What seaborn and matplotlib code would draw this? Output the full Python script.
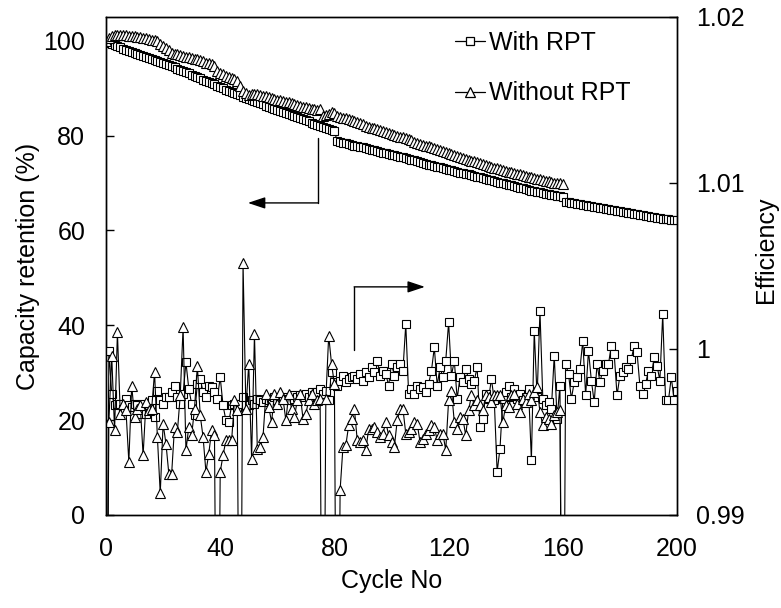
import matplotlib
matplotlib.use("Agg")
import matplotlib.pyplot as plt
from matplotlib.lines import Line2D
import seaborn as sns

# ---------------- data ----------------
cap_with_rpt = [
    100.0, 99.5, 99.3, 99.0, 98.8, 98.6, 98.3, 98.1, 97.9, 97.7,
    97.5, 97.3, 97.0, 96.8, 96.6, 96.4, 96.2, 96.0, 95.8, 95.6,
    95.4, 95.1, 94.9, 94.6, 94.4, 94.1, 93.9, 93.6, 93.4, 93.1,
    92.8, 92.6, 92.3, 92.1, 91.8, 91.5, 91.3, 91.0, 90.8, 90.5,
    90.2, 90.0, 89.7, 89.5, 89.2, 89.0, 88.7, 88.5, 88.2, 88.0,
    87.7, 87.5, 87.3, 87.0, 86.8, 86.6, 86.3, 86.1, 85.9, 85.7,
    85.4, 85.2, 85.0, 84.8, 84.5, 84.3, 84.1, 83.9, 83.6, 83.4,
    83.2, 83.0, 82.7, 82.5, 82.3, 82.1, 81.8, 81.6, 81.4, 81.2,
    80.9, 78.8, 78.7, 78.5, 78.4, 78.2, 78.1, 77.9, 77.8, 77.6,
    77.5, 77.3, 77.2, 77.0, 76.9, 76.7, 76.6, 76.4, 76.3, 76.1,
    76.0, 75.8, 75.7, 75.5, 75.4, 75.2, 75.1, 74.9, 74.8, 74.6,
    74.5, 74.3, 74.0, 73.9, 73.7, 73.6, 73.4, 73.3, 73.1, 73.0,
    72.8, 72.7, 72.5, 72.4, 72.2, 72.1, 71.9, 71.8, 71.6, 71.5,
    71.3, 71.2, 71.0, 70.9, 70.7, 70.6, 70.4, 70.2, 70.1, 69.9,
    69.8, 69.6, 69.5, 69.3, 69.2, 69.0, 68.9, 68.7, 68.6, 68.4,
    68.3, 68.1, 68.0, 67.8, 67.7, 67.6, 67.5, 67.4, 67.3, 67.2,
    67.1, 66.0, 65.9, 65.8, 65.7, 65.6, 65.5, 65.4, 65.3, 65.2,
    65.1, 65.0, 64.9, 64.8, 64.7, 64.6, 64.5, 64.4, 64.3, 64.2,
    64.0, 63.9, 63.8, 63.7, 63.6, 63.5, 63.4, 63.3, 63.2, 63.1,
    63.0, 62.9, 62.8, 62.7, 62.6, 62.5, 62.4, 62.4, 62.3, 62.3,
    62.2,
]

cap_without_rpt = [
    100.0, 100.6, 101.0, 101.3, 101.3, 101.2, 101.2, 101.1, 101.0, 100.9,
    100.9, 100.8, 100.7, 100.6, 100.5, 100.4, 100.2, 100.1, 99.9, 99.3,
    98.8, 98.5, 98.0, 97.5, 97.3, 97.1, 96.9, 96.8, 96.6, 96.5,
    96.4, 96.2, 96.1, 95.9, 95.7, 95.4, 95.2, 95.0, 94.7, 93.6,
    93.2, 92.9, 92.6, 92.4, 92.1, 91.9, 91.6, 90.4, 89.4, 89.0,
    88.6, 88.7, 88.8, 88.7, 88.5, 88.4, 88.3, 88.1, 88.0, 87.8,
    87.6, 87.5, 87.3, 87.1, 87.0, 86.8, 86.6, 86.4, 86.3, 86.1,
    86.0, 85.8, 85.7, 85.5, 85.3, 85.6, 84.2, 84.3, 84.6, 84.9,
    84.7, 84.2, 83.9, 83.8, 83.6, 83.4, 83.2, 83.0, 82.8, 82.6,
    82.4, 82.1, 81.9, 81.7, 81.6, 81.4, 81.2, 81.0, 80.8, 80.6,
    80.4, 80.2, 80.0, 79.8, 79.6, 79.4, 79.2, 79.0, 78.7, 78.5,
    78.3, 78.1, 77.9, 77.7, 77.5, 77.3, 77.1, 76.9, 76.7, 76.5,
    76.3, 76.1, 75.9, 75.7, 75.5, 75.3, 75.1, 74.9, 74.7, 74.6,
    74.4, 74.2, 74.0, 73.8, 73.6, 73.4, 73.2, 73.1, 72.9, 72.7,
    72.6, 72.4, 72.3, 72.1, 71.9, 71.8, 71.6, 71.5, 71.3, 71.2,
    71.0, 70.9, 70.8, 70.6, 70.5, 70.4, 70.2, 70.1, 70.0, 69.9,
    69.8,
]

eff_with_rpt = [
    0.9700, 0.9999, 0.9973, 0.9966, 0.9967, 0.9967, 0.9964, 0.9970, 0.9966, 0.9965,
    0.9967, 0.9966, 0.9961, 0.9967, 0.9961, 0.9966, 0.9969, 0.9959, 0.9975, 0.9969,
    0.9967, 0.9971, 0.9971, 0.9974, 0.9978, 0.9971, 0.9967, 0.9973, 0.9992, 0.9976,
    0.9967, 0.9960, 0.9979, 0.9982, 0.9974, 0.9971, 0.9978, 0.9977, 0.9974, 0.9970,
    0.9983, 0.9966, 0.9957, 0.9956, 0.9966, 0.9967, 0.9965, 0.9967, 0.9971, 0.9966,
    0.9966, 0.9969, 0.9967, 0.9970, 0.9969, 0.9968, 0.9970, 0.9969, 0.9967, 0.9971,
    0.9969, 0.9969, 0.9971, 0.9970, 0.9969, 0.9972, 0.9970, 0.9971, 0.9972, 0.9971,
    0.9973, 0.9971, 0.9974, 0.9972, 0.9974, 0.9976, 0.9973, 0.9975, 0.9969, 0.9986,
    0.9980, 0.9978, 0.9981, 0.9984, 0.9980, 0.9982, 0.9983, 0.9984, 0.9982, 0.9985,
    0.9981, 0.9986, 0.9983, 0.9989, 0.9986, 0.9993, 0.9984, 0.9987, 0.9985, 0.9978,
    0.9991, 0.9984, 0.9989, 0.9991, 0.9987, 1.0015, 0.9973, 0.9976, 0.9973, 0.9978,
    0.9976, 0.9977, 0.9974, 0.9979, 0.9987, 1.0001, 0.9978, 0.9989, 0.9983, 0.9993,
    1.0016, 0.9984, 0.9993, 0.9970, 0.9983, 0.9980, 0.9988, 0.9982, 0.9979, 0.9981,
    0.9989, 0.9953, 0.9958, 0.9973, 0.9970, 0.9982, 0.9969, 0.9926, 0.9940, 0.9970,
    0.9974, 0.9978, 0.9971, 0.9976, 0.9970, 0.9973, 0.9969, 0.9971, 0.9976, 0.9933,
    1.0011, 0.9971, 1.0023, 0.9970, 0.9966, 0.9968, 0.9964, 0.9996, 0.9958, 0.9978,
    0.9700, 0.9991, 0.9985, 0.9970, 0.9980, 0.9983, 0.9988, 1.0005, 0.9972, 0.9999,
    0.9981, 0.9968, 0.9991, 0.9980, 0.9987, 0.9991, 0.9991, 1.0002, 0.9997, 0.9972,
    0.9984, 0.9986, 0.9989, 0.9988, 0.9994, 1.0002, 0.9998, 0.9978, 0.9973, 0.9979,
    0.9987, 0.9984, 0.9995, 0.9990, 0.9981, 1.0021, 0.9969, 0.9969, 0.9983, 0.9969,
    0.9975,
]

eff_without_rpt = [
    0.9700, 0.9956, 0.9996, 0.9951, 1.0010, 0.9961, 0.9967, 0.9963, 0.9932, 0.9978,
    0.9959, 0.9964, 0.9966, 0.9936, 0.9968, 0.9963, 0.9964, 0.9986, 0.9947, 0.9913,
    0.9955, 0.9943, 0.9925, 0.9925, 0.9953, 0.9950, 0.9972, 1.0013, 0.9939, 0.9953,
    0.9948, 0.9964, 0.9990, 0.9960, 0.9947, 0.9926, 0.9937, 0.9951, 0.9948, 0.9700,
    0.9926, 0.9936, 0.9945, 0.9945, 0.9945, 0.9969, 0.9963, 0.9700, 1.0052, 0.9964,
    0.9991, 0.9934, 1.0009, 0.9940, 0.9941, 0.9947, 0.9973, 0.9965, 0.9956, 0.9973,
    0.9967, 0.9974, 0.9970, 0.9957, 0.9973, 0.9964, 0.9959, 0.9969, 0.9973, 0.9958,
    0.9961, 0.9969, 0.9973, 0.9967, 0.9969, 0.9970, 0.9700, 0.9970, 1.0008, 0.9991,
    0.9979, 0.9700, 0.9915, 0.9941, 0.9942, 0.9954, 0.9958, 0.9964, 0.9945, 0.9944,
    0.9945, 0.9939, 0.9952, 0.9952, 0.9953, 0.9950, 0.9947, 0.9949, 0.9956, 0.9948,
    0.9944, 0.9941, 0.9957, 0.9964, 0.9964, 0.9949, 0.9950, 0.9952, 0.9956, 0.9955,
    0.9944, 0.9946, 0.9949, 0.9951, 0.9954, 0.9953, 0.9945, 0.9949, 0.9949, 0.9939,
    0.9969, 0.9975, 0.9956, 0.9952, 0.9959, 0.9958, 0.9948, 0.9963, 0.9972, 0.9966,
    0.9969, 0.9966, 0.9963, 0.9972, 0.9971, 0.9968, 0.9972, 0.9972, 0.9972, 0.9956,
    0.9966, 0.9965, 0.9972, 0.9973, 0.9967, 0.9962, 0.9970, 0.9968, 0.9973, 0.9969,
    0.9974, 0.9977, 0.9962, 0.9954, 0.9959, 0.9958, 0.9955, 0.9960, 0.9962, 0.9963,
    0.9700,
]

cycles_with = list(range(len(cap_with_rpt)))
cycles_without = list(range(len(cap_without_rpt)))
series_labels = ["With RPT", "Without RPT"]
x_ticks = [0, 40, 80, 120, 160, 200]
y_ticks = [0, 20, 40, 60, 80, 100]
eff_ticks = [0.99, 1.00, 1.01, 1.02]
eff_tick_labels = ["0.99", "1", "1.01", "1.02"]

# ---------------- style ----------------
sns.set_theme(style="ticks")
plt.rcParams["font.family"] = ["Liberation Sans", "DejaVu Sans"]
for k in ("text.color", "axes.labelcolor", "xtick.color", "ytick.color", "axes.edgecolor"):
    plt.rcParams[k] = "black"
FS = 18

W, H = 781, 608
fig = plt.figure(figsize=(W / 100, H / 100), dpi=100)
L, R, T, B = 106, 677, 17, 515
ax = fig.add_axes([L / W, 1 - B / H, (R - L) / W, (B - T) / H])
ax.set_facecolor("white")
fig.patch.set_facecolor("white")

mk = dict(color="black", linewidth=0.8, markerfacecolor="white",
          markeredgecolor="black", markeredgewidth=0.8, legend=False)

sns.lineplot(x=cycles_with, y=cap_with_rpt, ax=ax, marker="s", markersize=6.2, **mk)
sns.lineplot(x=cycles_without, y=cap_without_rpt, ax=ax, marker="^", markersize=6.8, **mk)

ax.set_xlim(0, 200)
ax.set_ylim(0, 105)
ax.set_xticks(x_ticks)
ax.set_yticks(y_ticks)

ax2 = ax.twinx()
sns.lineplot(x=cycles_with, y=eff_with_rpt, ax=ax2, marker="s", markersize=6.2, **mk)
sns.lineplot(x=cycles_without, y=eff_without_rpt, ax=ax2, marker="^", markersize=6.8, **mk)
ax2.set_ylim(0.99, 1.02)
ax2.set_yticks(eff_ticks)
ax2.set_yticklabels(eff_tick_labels)
ax2.set_xlim(0, 200)

for a in (ax, ax2):
    for s in a.spines.values():
        s.set_color("black")
        s.set_linewidth(1.0)
        s.set_visible(True)

ax.tick_params(axis="y", direction="in", length=6, width=1, labelsize=FS, pad=15,
               colors="black", labelcolor="black")
ax.tick_params(axis="x", direction="in", length=0, width=1, labelsize=FS, pad=16,
               colors="black", labelcolor="black")
ax2.tick_params(axis="y", direction="in", length=6, width=1, labelsize=FS, pad=14,
                colors="black", labelcolor="black")

ax.set_xlabel("Cycle No", fontsize=FS, va="center", color="black")
ax.xaxis.set_label_coords(0.5, (B - 581) / (B - T))
ax.set_ylabel("Capacity retention (%)", fontsize=FS, va="center", color="black")
ax.yaxis.set_label_coords((28 - L) / (R - L), 0.5)
ax2.set_ylabel("Efficiency", fontsize=FS, va="center", rotation=90, color="black")
ax2.yaxis.set_label_coords((766 - L) / (R - L), (B - 250) / (B - T))

# legend
handles = [
    Line2D([], [], color="black", lw=0.9, marker="s", ms=6, mfc="white", mec="black", mew=0.9),
    Line2D([], [], color="black", lw=0.9, marker="^", ms=6.5, mfc="white", mec="black", mew=0.9),
]
leg = ax2.legend(handles, series_labels, loc="upper left",
                 bbox_to_anchor=(455 / W, 1 - 31 / H), bbox_transform=fig.transFigure,
                 frameon=False, fontsize=FS, borderpad=0, handlelength=1.2,
                 handletextpad=0.15, labelspacing=1.05, borderaxespad=0)
for t in leg.get_texts():
    t.set_color("black")

# elbow arrows
arrow_kw = dict(arrowstyle="-|>,head_length=0.75,head_width=0.25", color="black",
                lw=1.0, mutation_scale=14, shrinkA=0, shrinkB=0)
ax.plot([74.3, 74.3], [79.5, 65.8], color="black", lw=1.0)
ax.annotate("", xy=(49.7, 65.8), xytext=(74.3, 65.8), arrowprops=arrow_kw)
ax.plot([86.9, 86.9], [34.8, 48.1], color="black", lw=1.0)
ax.annotate("", xy=(111.7, 48.1), xytext=(86.9, 48.1), arrowprops=arrow_kw)

fig.savefig("out.png", dpi=100, facecolor="white")
